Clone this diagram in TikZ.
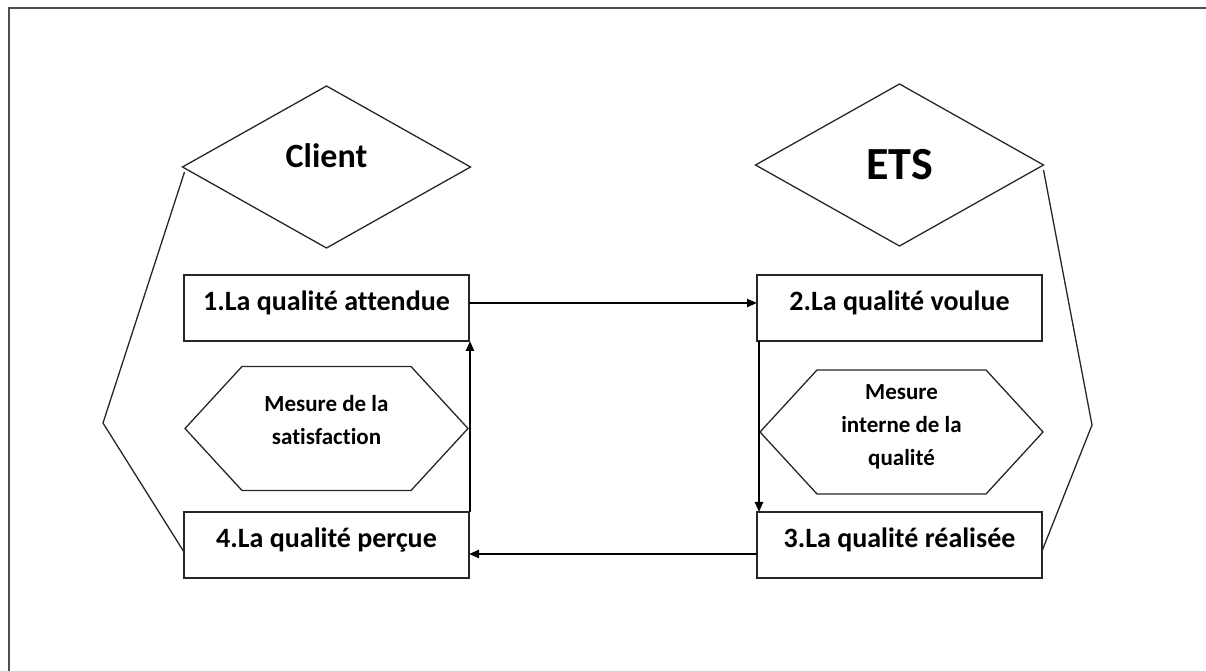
\documentclass[tikz,border=0pt]{standalone}
\usepackage{fontspec}
\setmainfont[Ligatures=NoCommon]{Carlito}
\usetikzlibrary{arrows.meta,positioning,shapes.geometric}

\begin{document}
\begin{tikzpicture}[
  x=1pt, y=1pt,
  font=\bfseries,
  qual/.style={rectangle, draw=black!85, line width=1.3pt, fill=white,
               minimum width=285pt, minimum height=66pt, inner sep=0pt,
               outer sep=0pt, text height=20pt, text depth=15pt,
               font=\fontsize{28}{34}\selectfont\bfseries},
  side/.style={diamond, draw=black!85, line width=1.3pt, minimum width=288pt,
               minimum height=162pt, inner sep=0pt, outer sep=0pt},
  meas/.style={minimum width=283pt, minimum height=124pt, inner sep=0pt,
               outer sep=0pt, align=center,
               font=\fontsize{23}{33}\selectfont\bfseries},
  hexa/.style={draw=black!85, line width=1.3pt, line join=miter},
  link/.style={black!85, line width=1.3pt},
  ar/.style={-{Triangle[length=10pt,width=8pt]}, line width=2.2pt},
  frame/.style={draw=black!70, line width=2pt}
]
\useasboundingbox (0,0) rectangle (1206,671);
\draw[frame] (9,0) -- (9,663) -- (1206,663);

\node[qual] (q1) at (326.5,363) {1.La qualité attendue};
\node[qual, right=288pt of q1] (q2) {2.La qualité voulue};
\node[qual, below=171pt of q1] (q4) {4.La qualité perçue};
\node[qual, right=288pt of q4] (q3) {3.La qualité réalisée};

\node[side, above=27pt of q1, text height=24pt, text depth=22pt,
      font=\fontsize{34}{40}\selectfont\bfseries] (cli) {Client};
\node[side, above=29pt of q2, font=\fontsize{46}{54}\selectfont\bfseries] (ets) {ETS};

\node[meas, below=17.5pt of q1] (mesL) {Mesure de la\\satisfaction};
\node[meas, below=24pt of q2, xshift=2pt] (mesR) {Mesure\\interne de la\\qualité};

\draw[hexa] ([yshift=-8pt]mesL.west) -- ([shift={(57pt,-8pt)}]mesL.north west)
  -- ([shift={(-57pt,-8pt)}]mesL.north east) -- ([yshift=-8pt]mesL.east)
  -- ([shift={(-57pt,-8pt)}]mesL.south east) -- ([shift={(57pt,-8pt)}]mesL.south west) -- cycle;
\draw[hexa] ([yshift=-5pt]mesR.west) -- ([shift={(57pt,-5pt)}]mesR.north west)
  -- ([shift={(-57pt,-5pt)}]mesR.north east) -- ([yshift=-5pt]mesR.east)
  -- ([shift={(-57pt,-5pt)}]mesR.south east) -- ([shift={(57pt,-5pt)}]mesR.south west) -- cycle;

\draw[ar] ([yshift=5pt]q1.east) -- ([yshift=5pt]q2.west);
\draw[ar] ([xshift=2pt]q2.south west) -- ([xshift=2pt]q3.north west);
\draw[ar] ([yshift=-9pt]q3.west) -- ([yshift=-9pt]q4.east);
\draw[ar] ([xshift=1pt]q4.north east) -- ([xshift=1pt]q1.south east);

\coordinate (bendL) at (103,248);
\coordinate (bendR) at (1092,246);
\draw[link] ([shift={(2pt,-5pt)}]cli.west) -- (bendL) -- ([yshift=-7pt]q4.west);
\draw[link] ([yshift=-5pt]ets.east) -- (bendR) -- ([yshift=-6pt]q3.east);
\end{tikzpicture}
\end{document}
